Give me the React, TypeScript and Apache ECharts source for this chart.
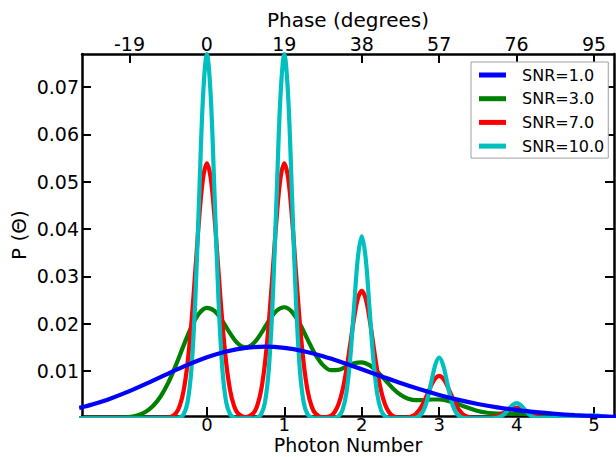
import React, { useEffect, useRef } from "react";
import * as echarts from "echarts";

const FONT = "'DejaVu Sans', sans-serif";

const seriesNames = ["SNR=1.0", "SNR=3.0", "SNR=7.0", "SNR=10.0"];
const seriesColors = ["#0000ff", "#008000", "#ff0000", "#00bfbf"];

const photonTicks = [0, 1, 2, 3, 4, 5];
const phaseTicks = [-1, 0, 1, 2, 3, 4, 5];
const phaseLabels = ["-19", "0", "19", "38", "57", "76", "95"];
const yTicks = [0.01, 0.02, 0.03, 0.04, 0.05, 0.06, 0.07];

const snr1: [number, number][] = [
  [-1.65, 0.00221], [-1.6, 0.00241], [-1.5, 0.00285], [-1.25, 0.00416], [-1, 0.00575],
  [-0.75, 0.00756], [-0.5, 0.00947], [-0.25, 0.0113], [0, 0.0129], [0.25, 0.01413],
  [0.5, 0.01489], [0.75, 0.01514], [1, 0.01488], [1.25, 0.01418], [1.5, 0.01312],
  [1.75, 0.01182], [2, 0.01038], [2.25, 0.00891], [2.5, 0.00747], [2.75, 0.00614],
  [3, 0.00495], [3.25, 0.00391], [3.5, 0.00304], [3.75, 0.00232], [4, 0.00175],
  [4.25, 0.0013], [4.5, 0.00095], [4.75, 0.00068], [5, 0.00048], [5.25, 0.00034], [5.3, 0.00032],
];

const snr3: [number, number][] = [
  [-1.65, 0], [-1.1, 0.0001], [-1, 0.000257], [-0.9, 0.000603], [-0.8, 0.001297], [-0.7, 0.002546],
  [-0.6, 0.004571], [-0.5, 0.007499], [-0.4, 0.011245], [-0.3, 0.015417], [-0.2, 0.019326],
  [-0.1, 0.02218], [0, 0.023353], [0.1, 0.022683], [0.2, 0.020588], [0.3, 0.017951],
  [0.4, 0.015813], [0.5, 0.014997], [0.6, 0.015814], [0.7, 0.017957], [0.8, 0.020605],
  [0.9, 0.022733], [1, 0.023481], [1.1, 0.022481], [1.2, 0.019975], [1.3, 0.01669],
  [1.4, 0.013531], [1.5, 0.011248], [1.6, 0.010192], [1.7, 0.010251], [1.8, 0.010948],
  [1.9, 0.01166], [2, 0.011847], [2.1, 0.01124], [2.2, 0.009897], [2.3, 0.008138],
  [2.4, 0.006386], [2.5, 0.004999], [2.6, 0.004159], [2.7, 0.003841], [2.8, 0.003865],
  [2.9, 0.003986], [3, 0.003988], [3.1, 0.003755], [3.2, 0.003287], [3.3, 0.002679],
  [3.4, 0.002066], [3.5, 0.001562], [3.6, 0.00123], [3.7, 0.001066], [3.8, 0.00102],
  [3.9, 0.001021], [4, 0.001007], [4.1, 0.000941], [4.2, 0.00082], [4.3, 0.000665],
  [4.4, 0.000507], [4.5, 0.000375], [4.6, 0.000284], [4.7, 0.000234], [4.8, 0.000214], [5.3, 0.0001],
];

const snr7: [number, number][] = [
  [-1.65, 0], [-0.5, 0.000118], [-0.4, 0.001069], [-0.35, 0.00268], [-0.3, 0.005941], [-0.25, 0.011655],
  [-0.2, 0.020225], [-0.15, 0.031053], [-0.1, 0.04218], [-0.05, 0.050688], [0, 0.05389],
  [0.05, 0.050688], [0.1, 0.04218], [0.15, 0.031053], [0.2, 0.020225], [0.25, 0.011655],
  [0.3, 0.005941], [0.35, 0.00268], [0.4, 0.001069], [0.5, 0.000236],
  [0.6, 0.001069], [0.65, 0.00268], [0.7, 0.005941], [0.75, 0.011655], [0.8, 0.020225],
  [0.85, 0.031053], [0.9, 0.04218], [0.95, 0.050688], [1, 0.05389], [1.05, 0.050688],
  [1.1, 0.04218], [1.15, 0.031053], [1.2, 0.020225], [1.25, 0.011655], [1.3, 0.005941],
  [1.35, 0.00268], [1.4, 0.001069], [1.5, 0.000177],
  [1.6, 0.000535], [1.65, 0.00134], [1.7, 0.002971], [1.75, 0.005827], [1.8, 0.010113],
  [1.85, 0.015527], [1.9, 0.02109], [1.95, 0.025344], [2, 0.026945], [2.05, 0.025344],
  [2.1, 0.02109], [2.15, 0.015527], [2.2, 0.010113], [2.25, 0.005827], [2.3, 0.002971],
  [2.35, 0.00134], [2.4, 0.000535], [2.5, 0.0000785],
  [2.6, 0.000178], [2.65, 0.000447], [2.7, 0.00099], [2.75, 0.001943], [2.8, 0.003371],
  [2.85, 0.005176], [2.9, 0.00703], [2.95, 0.008448], [3, 0.008982], [3.05, 0.008448],
  [3.1, 0.00703], [3.15, 0.005176], [3.2, 0.003371], [3.25, 0.001943], [3.3, 0.00099],
  [3.35, 0.000447], [3.4, 0.000178], [3.5, 0.0000245],
  [3.6, 0.0000446], [3.65, 0.000112], [3.7, 0.000248], [3.75, 0.000486], [3.8, 0.000843],
  [3.85, 0.001294], [3.9, 0.001758], [3.95, 0.002112], [4, 0.002245], [4.05, 0.002112],
  [4.1, 0.001758], [4.15, 0.001294], [4.2, 0.000843], [4.25, 0.000486], [4.3, 0.000248],
  [4.35, 0.000112], [4.4, 0.0000446], [5.3, 0],
];

const snr10: [number, number][] = [
  [-1.65, 0], [-0.4, 0.0000258], [-0.35, 0.000168], [-0.3, 0.000855], [-0.25, 0.003383], [-0.2, 0.010418],
  [-0.15, 0.02499], [-0.1, 0.04669], [-0.05, 0.06794], [0, 0.07698], [0.05, 0.06794],
  [0.1, 0.04669], [0.15, 0.02499], [0.2, 0.010418], [0.25, 0.003383], [0.3, 0.000855],
  [0.35, 0.000168], [0.4, 0.0000258],
  [0.6, 0.0000258], [0.65, 0.000168], [0.7, 0.000855], [0.75, 0.003383], [0.8, 0.010418],
  [0.85, 0.02499], [0.9, 0.04669], [0.95, 0.06794], [1, 0.07698], [1.05, 0.06794],
  [1.1, 0.04669], [1.15, 0.02499], [1.2, 0.010418], [1.25, 0.003383], [1.3, 0.000855],
  [1.35, 0.000168], [1.4, 0.0000258],
  [1.6, 0.0000129], [1.65, 0.0000842], [1.7, 0.000428], [1.75, 0.001691], [1.8, 0.005209],
  [1.85, 0.012496], [1.9, 0.023346], [1.95, 0.03397], [2, 0.03849], [2.05, 0.03397],
  [2.1, 0.023346], [2.15, 0.012496], [2.2, 0.005209], [2.25, 0.001691], [2.3, 0.000428],
  [2.35, 0.0000842], [2.4, 0.0000129],
  [2.65, 0.000028], [2.7, 0.000143], [2.75, 0.000564], [2.8, 0.001736], [2.85, 0.004165],
  [2.9, 0.007782], [2.95, 0.011322], [3, 0.01283], [3.05, 0.011322], [3.1, 0.007782],
  [3.15, 0.004165], [3.2, 0.001736], [3.25, 0.000564], [3.3, 0.000143], [3.35, 0.000028],
  [3.7, 0.0000356], [3.75, 0.000141], [3.8, 0.000434], [3.85, 0.001041], [3.9, 0.001946],
  [3.95, 0.002831], [4, 0.003208], [4.05, 0.002831], [4.1, 0.001946], [4.15, 0.001041],
  [4.2, 0.000434], [4.25, 0.000141], [4.3, 0.0000356],
  [4.85, 0.00014], [4.9, 0.000389], [4.95, 0.000567], [5, 0.000642], [5.05, 0.000567],
  [5.1, 0.000389], [5.15, 0.00014], [5.3, 0],
];

const seriesData = [snr1, snr3, snr7, snr10];
const seriesZ = [5, 2, 3, 4];

const X_MIN = -1.613;
const X_MAX = 5.258;
const Y_MIN = 0.0005;
const Y_MAX = 0.077;

export default function App() {
  const ref = useRef<HTMLDivElement>(null);
  useEffect(() => {
    if (!ref.current) return;
    const chart = echarts.init(ref.current, null, { renderer: "svg" });
    const axisLine = { show: true, onZero: false, lineStyle: { color: "#000", width: 2.5 } };
    const tickStyle = { color: "#000", width: 2 };
    const labelBase = { color: "#000", fontFamily: FONT, fontSize: 19 };
    const nameStyle = { color: "#000", fontFamily: FONT, fontSize: 20 };
    chart.setOption({
      animation: false,
      backgroundColor: "#fff",
      textStyle: { fontFamily: FONT },
      grid: { left: 82, right: 2, top: 54, bottom: 41, outerBoundsMode: "none" },
      legend: {
        data: seriesNames,
        orient: "vertical",
        left: 471,
        top: 62,
        padding: [5, 4, 4, 8],
        itemGap: 7.7,
        itemWidth: 27,
        itemHeight: 5,
        icon: "rect",
        backgroundColor: "#fff",
        borderColor: "#a0a0a0",
        borderWidth: 1,
        borderRadius: 0,
        selectedMode: false,
        textStyle: { color: "#000", fontFamily: FONT, fontSize: 16, padding: [0, 0, 0, 11] },
      },
      xAxis: [
        {
          type: "value",
          position: "bottom",
          min: X_MIN,
          max: X_MAX,
          axisLine,
          splitLine: { show: false },
          axisTick: { show: true, inside: true, length: 9, lineStyle: tickStyle, customValues: photonTicks },
          axisLabel: { ...labelBase, fontSize: 18, margin: -1, customValues: photonTicks, formatter: (v: number) => String(Math.round(v)) },
          name: "Photon Number",
          nameLocation: "middle",
          nameGap: 19,
          nameMoveOverlap: false,
          nameTextStyle: { ...nameStyle, fontSize: 19 },
        },
        {
          type: "value",
          position: "top",
          min: X_MIN,
          max: X_MAX,
          axisLine,
          splitLine: { show: false },
          axisTick: { show: true, inside: true, length: 9, lineStyle: tickStyle, customValues: phaseTicks },
          axisLabel: {
            ...labelBase,
            margin: 1,
            customValues: phaseTicks,
            formatter: (v: number) => {
              const i = phaseTicks.indexOf(Math.round(v));
              return i >= 0 ? phaseLabels[i] : "";
            },
          },
          name: "Phase (degrees)",
          nameLocation: "middle",
          nameGap: 24,
          nameMoveOverlap: false,
          nameTextStyle: nameStyle,
        },
      ],
      yAxis: [
        {
          type: "value",
          position: "left",
          min: Y_MIN,
          max: Y_MAX,
          axisLine,
          splitLine: { show: false },
          axisTick: { show: true, inside: true, length: 9, lineStyle: tickStyle, customValues: yTicks },
          axisLabel: { ...labelBase, margin: 3, customValues: yTicks, formatter: (v: number) => v.toFixed(2) },
          name: "P (Θ)",
          nameLocation: "middle",
          nameRotate: 90,
          nameGap: 53,
          nameMoveOverlap: false,
          nameTextStyle: nameStyle,
        },
        {
          type: "value",
          position: "right",
          min: Y_MIN,
          max: Y_MAX,
          axisLine,
          splitLine: { show: false },
          axisTick: { show: true, inside: true, length: 9, lineStyle: tickStyle, customValues: yTicks },
          axisLabel: { show: false },
        },
      ],
      series: seriesNames.map((name, i) => ({
        name,
        type: "line",
        xAxisIndex: 0,
        yAxisIndex: 0,
        data: seriesData[i],
        smooth: 0.35,
        showSymbol: false,
        symbol: "none",
        clip: true,
        z: seriesZ[i],
        color: seriesColors[i],
        lineStyle: { color: seriesColors[i], width: 4.2 },
      })),
    });
    return () => chart.dispose();
  }, []);
  return <div ref={ref} style={{ position: "fixed", left: 0, top: 0, width: 616, height: 457 }} />;
}
